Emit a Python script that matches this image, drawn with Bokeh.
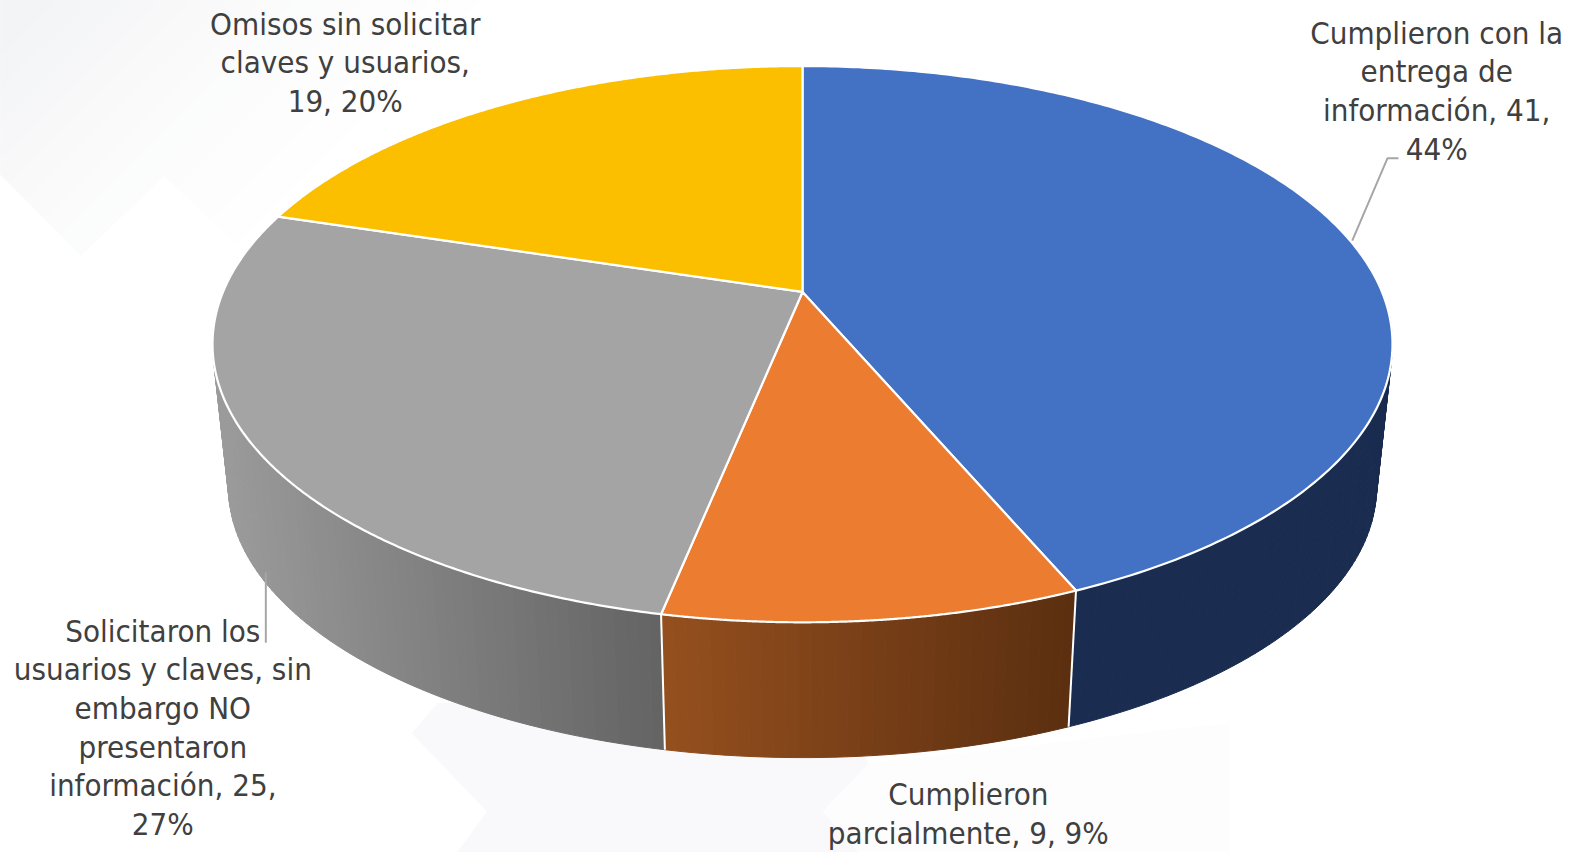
import numpy as np
from bokeh.embed import file_html
from bokeh.resources import INLINE
from bokeh.plotting import figure
from bokeh.models import Range1d
from bokeh.core.properties import value

# ---- data ----
CATEGORIES = ["Cumplieron con la entrega de información",
              "Cumplieron parcialmente",
              "Solicitaron los usuarios y claves, sin embargo NO presentaron información",
              "Omisos sin solicitar claves y usuarios"]
VALUES = [41, 9, 25, 19]
TOP_COLORS = ["#4371C3", "#EC7C30", "#A4A4A4", "#FBBF00"]
WALL_LEFT = ["#1A2C50", "#954F1E", "#9C9C9C", "#8A6A00"]
WALL_RIGHT = ["#1A2C50", "#5B2F10", "#636363", "#8A6A00"]
LABEL_LINES = [
    ["Cumplieron con la", "entrega de", "información, 41,", "44%"],
    ["Cumplieron", "parcialmente, 9, 9%"],
    ["Solicitaron los", "usuarios y claves, sin", "embargo NO", "presentaron", "información, 25,", "27%"],
    ["Omisos sin solicitar", "claves y usuarios,", "19, 20%"],
]
LABEL_X = [1431, 965, 163.5, 345]
LABEL_Y0 = [33, 791, 628, 24]
LINE_H = 38.5
FONT = "DejaVu Sans Condensed"
FONT_SIZE = "31px"

# ---- perspective model of the pie ----
CX, CY, A, B, K = 800.0, 291.0, 576.6, 267.0, 0.1877
SHRINK, CY_BASE = 0.973, 434.5


def ring(theta, base=False):
    u, v = np.sin(theta), np.cos(theta)
    d = 1 + K * v
    if base:
        return CX + SHRINK * A * u / d, CY_BASE - SHRINK * B * v / d
    return CX + A * u / d, CY - B * v / d


def lerp_hex(c0, c1, t):
    a = [int(c0[i:i + 2], 16) for i in (1, 3, 5)]
    b = [int(c1[i:i + 2], 16) for i in (1, 3, 5)]
    return "#%02x%02x%02x" % tuple(int(round(p + (q - p) * t)) for p, q in zip(a, b))


def clip_diag(poly, c):
    """Part of a polygon where x + y < c."""
    out = []
    for i in range(len(poly)):
        a, b = poly[i], poly[(i + 1) % len(poly)]
        fa, fb = a[0] + a[1] - c, b[0] + b[1] - c
        if fa < 0:
            out.append(a)
        if fa * fb < 0:
            t = fa / (fa - fb)
            out.append((a[0] + (b[0] - a[0]) * t, a[1] + (b[1] - a[1]) * t))
    return out


total = sum(VALUES)
edges = 2 * np.pi * np.cumsum([0] + VALUES) / total

W, H = 1566, 852
SCALE = 0.995
OFF_X, OFF_Y = 2.0, 1.0
p = figure(width=W, height=H, output_backend="svg", toolbar_location=None,
           x_range=Range1d(OFF_X, OFF_X + W * SCALE), y_range=Range1d(OFF_Y + H * SCALE, OFF_Y), min_border=0,
           outline_line_color=None, background_fill_color="white", border_fill_color="white")
p.axis.visible = False
p.grid.visible = False

# ---- faint page decoration ----
corner = [(0, 0), (480, 0), (236, 243), (165, 176), (82, 255), (0, 172)]
steps = 14
for k in range(steps):
    c = 500 - k * 34
    poly = clip_diag(corner, c)
    if len(poly) > 2:
        p.patch([q[0] for q in poly], [q[1] for q in poly],
                fill_color=lerp_hex("#fefefe", "#f3f4f6", (k / (steps - 1)) ** 1.5), line_color=None)
p.patch([1225, 1225, 866, 820, 866],
        [720, 860, 860, 808, 760], fill_color="#fdfdfe", line_color=None)
p.patch([411, 437, 830, 866, 820, 866, 448, 486],
        [730, 700, 700, 760, 808, 860, 860, 808], fill_color="#f9f9fb", line_color=None)

# ---- side walls ----
xs, ys, cols = [], [], []
for i in range(len(VALUES)):
    t0, t1 = edges[i], edges[i + 1]
    n = max(2, int((t1 - t0) / np.radians(1.0)))
    th = np.linspace(t0, t1, n + 1)
    for a, b in zip(th[:-1], th[1:]):
        if np.cos((a + b) / 2) > 0.12:
            continue
        x0, y0 = ring(a)
        x1, y1 = ring(b)
        x2, y2 = ring(b, True)
        x3, y3 = ring(a, True)
        xm = (x0 + x1 + x2 + x3) / 4
        xa, _ = ring(t0, True)
        xb, _ = ring(t1, True)
        lo = min(xa, xb)
        hi = max(xa, xb)
        if i == 2:
            lo = 215.0
        frac = float(np.clip((xm - lo) / (hi - lo), 0, 1))
        xs.append([x0, x1, x2, x3])
        ys.append([y0, y1, y2, y3])
        cols.append(lerp_hex(WALL_LEFT[i], WALL_RIGHT[i], frac))
p.patches(xs, ys, fill_color=cols, line_color=cols, line_width=1)

# white seams on the wall
for e in edges[1:3]:
    xa, ya = ring(e)
    xb, yb = ring(e, True)
    p.line([xa, xb], [ya, yb], line_color="white", line_width=2)

# ---- top surface ----
for i in range(len(VALUES)):
    th = np.linspace(edges[i], edges[i + 1], 240)
    rx, ry = ring(th)
    p.patch(np.r_[CX, rx], np.r_[CY, ry], fill_color=TOP_COLORS[i],
            line_color="white", line_width=2.2, line_join="round")

# ---- leader lines ----
p.line([1347, 1382, 1393], [240, 158, 158], line_color="#a6a6a6", line_width=2)
p.line([266, 266], [570, 640], line_color="#a6a6a6", line_width=2)

# ---- labels ----
tx, ty, tt = [], [], []
for lines, x, y0 in zip(LABEL_LINES, LABEL_X, LABEL_Y0):
    for j, s in enumerate(lines):
        tx.append(x)
        ty.append(y0 + j * LINE_H)
        tt.append(s)
p.text(tx, ty, text=tt, text_font=value(FONT), text_font_size=value(FONT_SIZE),
       text_color="#404040", text_align="center", text_baseline="middle")

open("out.html", "w").write(file_html(p, INLINE))
